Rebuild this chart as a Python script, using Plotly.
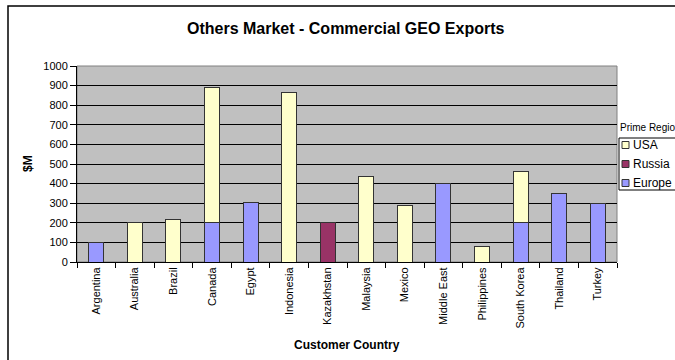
import plotly.graph_objects as go

# Export values ($M) by customer country, split by prime region
countries = ["Argentina", "Australia", "Brazil", "Canada", "Egypt", "Indonesia",
             "Kazakhstan", "Malaysia", "Mexico", "Middle East", "Philippines",
             "South Korea", "Thailand", "Turkey"]
europe = [100, None, None, 200, 305, None, None, None, None, 400, None, 200, 350, 300]
russia = [None, None, None, None, None, None, 200, None, None, None, None, None, None, None]
usa = [None, 200, 215, 690, None, 865, None, 437, 290, None, 80, 260, None, None]

regions = ["Europe", "Russia", "USA"]
legend_order = ["USA", "Russia", "Europe"]
colors = {"USA": "#FFFFCC", "Russia": "#993366", "Europe": "#9999FF"}
series = {"Europe": europe, "Russia": russia, "USA": usa}

y_ticks = list(range(0, 1001, 100))

FONT = "Arial, Liberation Sans, sans-serif"
EDGE = "#333333"

fig = go.Figure()
for name in regions:
    fig.add_trace(go.Bar(
        x=countries, y=series[name], name=name,
        marker=dict(color=colors[name], line=dict(color=EDGE, width=1)),
        width=0.39,
    ))

# plot area geometry (pixels) used for paper-coordinate placement
L, R, T, B = 77, 617, 66, 262
W, H = 675, 360
pw, ph = R - L, B - T

def px(x):
    return (x - L) / pw

def py(y):
    return 1 - (y - T) / ph

shapes = [
    # outer chart frame
    dict(type="rect", xref="paper", yref="paper",
         x0=px(8), x1=px(720), y0=py(400), y1=py(6),
         line=dict(color="black", width=1.5), layer="below"),
    # plot area border
    dict(type="rect", xref="paper", yref="paper",
         x0=0, x1=1, y0=0, y1=1,
         line=dict(color="#808080", width=1), layer="below"),
    # legend box
    dict(type="rect", xref="paper", yref="paper",
         x0=px(619), x1=px(720), y0=py(190), y1=py(138),
         line=dict(color="black", width=1), fillcolor="white"),
]

annotations = [
    dict(text="<b>Others Market - Commercial GEO Exports</b>",
         xref="paper", yref="paper", x=px(346), y=py(28),
         xanchor="center", yanchor="middle", showarrow=False,
         font=dict(size=16, family=FONT)),
    dict(text="<b>$M</b>", xref="paper", yref="paper",
         x=px(28), y=0.5, textangle=-90,
         xanchor="center", yanchor="middle", showarrow=False,
         font=dict(size=12, family=FONT)),
    dict(text="<b>Customer Country</b>", xref="paper", yref="paper",
         x=0.5, y=py(345), xanchor="center", yanchor="middle",
         showarrow=False, font=dict(size=12, family=FONT)),
    dict(text="Prime Region", xref="paper", yref="paper",
         x=px(618), y=py(127), xanchor="left", yanchor="middle",
         showarrow=False, font=dict(size=10, family=FONT)),
]

# legend entries: swatch + label
for i, name in enumerate(legend_order):
    cy = 145 + i * 19
    shapes.append(dict(type="rect", xref="paper", yref="paper",
                       x0=px(622), x1=px(629), y0=py(cy + 3.5), y1=py(cy - 3.5),
                       line=dict(color=EDGE, width=1), fillcolor=colors[name]))
    annotations.append(dict(text=name, xref="paper", yref="paper",
                            x=px(631), y=py(cy), xanchor="left", yanchor="middle",
                            showarrow=False, font=dict(size=12, family=FONT)))

fig.update_layout(
    width=W, height=H,
    margin=dict(l=L, r=W - R, t=T, b=H - B),
    paper_bgcolor="white",
    plot_bgcolor="#C0C0C0",
    barmode="stack",
    font=dict(family=FONT, size=11, color="black"),
    showlegend=False,
    xaxis=dict(
        tickangle=-90, tickson="boundaries",
        ticks="outside", ticklen=5, tickcolor="black",
        showline=True, linecolor="black", linewidth=1,
        tickfont=dict(size=11, family=FONT),
        showgrid=False,
    ),
    yaxis=dict(
        range=[0, 1000], tickvals=y_ticks,
        ticks="outside", ticklen=6, tickcolor="black",
        showline=True, linecolor="black", linewidth=1,
        gridcolor="black", gridwidth=1,
        tickfont=dict(size=11, family=FONT),
        zeroline=False,
    ),
    shapes=shapes,
    annotations=annotations,
)

fig.write_html("out.html")
